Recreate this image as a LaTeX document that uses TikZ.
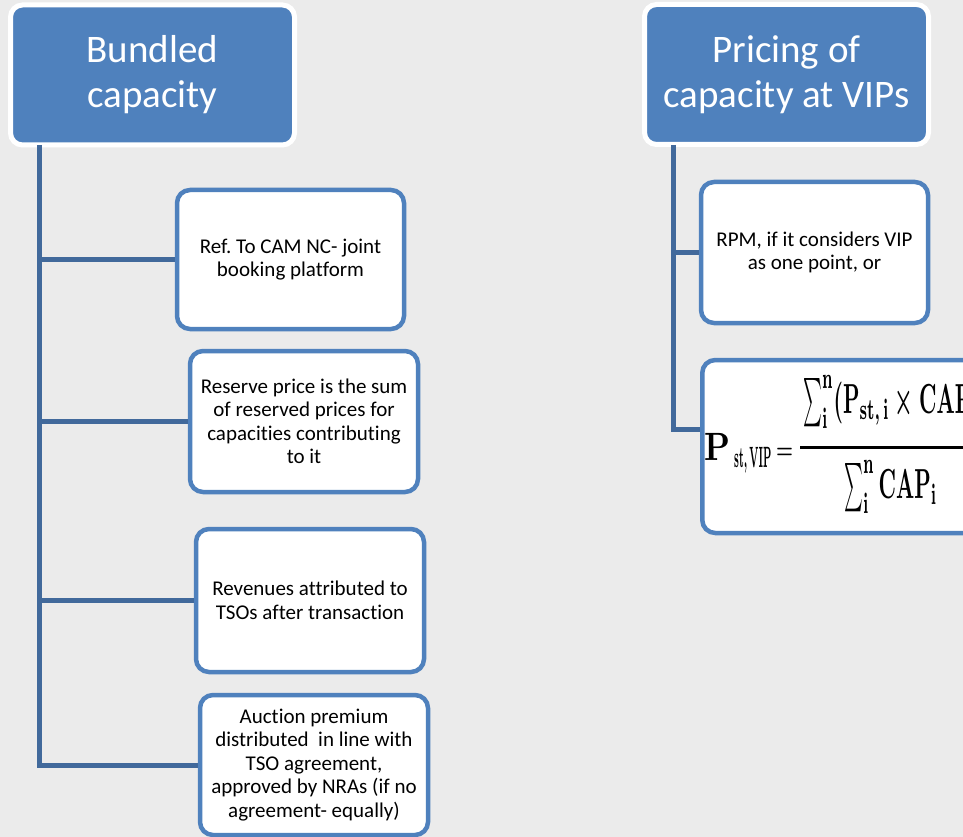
\documentclass[tikz,border=0pt]{standalone}
\usepackage[no-math]{fontspec}
\setmainfont{Carlito}[Ligatures=CommonOff]
\usepackage{graphicx}
\definecolor{bg}{RGB}{235,235,235}
\definecolor{hdr}{RGB}{79,129,189}
\definecolor{trunk}{RGB}{65,105,155}
\definecolor{boxline}{RGB}{79,129,189}
\newcommand\tallsum{\mathop{\vcenter{\hbox{\scalebox{0.85}[1.15]{$\textstyle\sum$}}}}\nolimits}
\tikzset{
  header/.style={draw=white, line width=5pt, fill=hdr, rounded corners=12pt,
    minimum width=284pt, minimum height=140pt, inner sep=0pt, align=center,
    text=white, font=\fontsize{39}{45}\selectfont},
  item/.style={draw=boxline, line width=4.5pt, fill=white, rounded corners=13pt,
    inner sep=0pt, align=center, font=\fontsize{21}{23.5}\selectfont},
  conn/.style={draw=trunk, line width=5pt},
  fml/.style={inner sep=0pt, anchor=base west, font=\boldmath},
  fbar/.style={draw=black, line width=3pt},
}
\begin{document}
\begin{tikzpicture}[x=1pt,y=-1pt]
\path[use as bounding box, clip] (0,0) rectangle (963,837);
\fill[bg] (0,0) rectangle (963,837);

% left column
\node[header] (h1) at (152.5,75) {Bundled\\capacity};
\node[item, minimum width=227pt, minimum height=139pt] (b1) at (290.5,259.5)
  {Ref.\ To CAM NC- joint\\booking platform};
\node[item, minimum width=228pt, minimum height=141pt] (b2) at (304,421.5)
  {Reserve price is the sum\\of reserved prices for\\capacities contributing\\to it};
\node[item, minimum width=228pt, minimum height=143pt] (b3) at (310,600.5)
  {Revenues attributed to\\TSOs after transaction};
\node[item, minimum width=228pt, minimum height=140pt] (b4) at (314,765)
  {Auction premium\\distributed\ \ in line with\\TSO agreement,\\approved by NRAs (if no\\agreement- equally)};

\coordinate (t1top) at (39.5,145);
\coordinate (t1bot) at (39.5,765.5);
\draw[conn] (t1top) -- (t1bot) -- (b4.west |- t1bot);
\draw[conn] (t1top |- b1.west) -- (b1.west);
\draw[conn] (t1top |- b2.west) -- (b2.west);
\draw[conn] (t1top |- b3.west) -- (b3.west);

% right column
\node[header] (h2) at (786.5,74.5) {Pricing of\\capacity at VIPs};
\node[item, minimum width=227pt, minimum height=141pt] (r1) at (814.5,252.5)
  {RPM, if it considers VIP\\as one point, or};
\node[item, minimum width=360pt, minimum height=173pt, anchor=west] (r2) at (700,446.5) {};

% formula P_st,VIP = sum(P_st,i x CAP_i) / sum CAP_i
\node[fml] (fP) at (704,460) {\scalebox{3.3}[3.95]{$\mathrm{P}$}};
\node[fml] (fsub) at (734,467) {\scalebox{1.35}[4.2]{$\scriptstyle\mathrm{st,\,VIP}$}};
\node[fml] (feq) at (776,458) {\scalebox{1.9}[2.6]{$=$}};
\coordinate (barL) at (800,447.5);
\coordinate (barR) at (990,447.5);
\draw[fbar] (barL) -- (barR);
\node[fml] (fnum) at (803,413) {\scalebox{2.1}[4.2]{$\tallsum_{\mathrm{i}}^{\mathrm{n}}(\mathrm{P}_{\mathrm{st,\,i}}\times\mathrm{CAP}_{\mathrm{i}})$}};
\node[fml] (fden) at (844,498) {\scalebox{2.1}[4.2]{$\tallsum_{\mathrm{i}}^{\mathrm{n}}\mathrm{CAP}_{\mathrm{i}}$}};

\coordinate (t2top) at (673,145);
\coordinate (t2bot) at (673,429.5);
\draw[conn] (t2top) -- (t2bot) -- (r2.west |- t2bot);
\draw[conn] (t2top |- r1.west) -- (r1.west);
\end{tikzpicture}
\end{document}
